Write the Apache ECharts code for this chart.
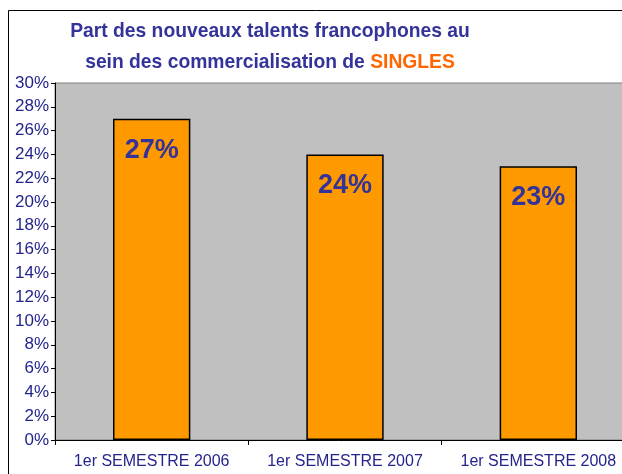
<!DOCTYPE html>
<html>
<head>
<meta charset="utf-8">
<script src="https://cdn.jsdelivr.net/npm/echarts@6/dist/echarts.min.js"></script>
<style>
  html, body { margin: 0; padding: 0; background: #ffffff; }
  #chart { width: 622px; height: 474px; }
</style>
</head>
<body>
<div id="chart"></div>
<script>
// Share of new French-speaking talents in singles sales, by first half-year
const categories = ['1er SEMESTRE 2006', '1er SEMESTRE 2007', '1er SEMESTRE 2008'];
const shares = [27, 24, 23];
const yTicks = { min: 0, max: 30, step: 2 };

const chart = echarts.init(document.getElementById('chart'), null, { renderer: 'canvas' });

const navy = '#24248c';
const titleBlue = '#333399';
const font = 'Liberation Sans, Arial, sans-serif';

chart.setOption({
  animation: false,
  backgroundColor: '#ffffff',
  title: {
    text: '{a|Part des nouveaux talents francophones au}\n{a|sein des commercialisation de }{b|SINGLES}',
    left: 265,
    top: 11,
    textAlign: 'center',
    textStyle: {
      rich: {
        a: { fontFamily: font, fontWeight: 'bold', fontSize: 19.3, color: titleBlue, lineHeight: 31 },
        b: { fontFamily: font, fontWeight: 'bold', fontSize: 19.3, color: '#ff6600', lineHeight: 31 }
      }
    }
  },
  graphic: [
    {
      type: 'rect',
      shape: { x: 8.5, y: 10.5, width: 640, height: 500 },
      style: { fill: 'none', stroke: '#000000', lineWidth: 1 },
      z: 0
    }
  ],
  grid: {
    left: 55,
    top: 83,
    width: 580,
    height: 357,
    outerBoundsMode: 'none',
    containLabel: false,
    show: true,
    backgroundColor: '#c0c0c0',
    borderColor: '#808080',
    borderWidth: 1
  },
  xAxis: {
    type: 'category',
    data: categories,
    axisLine: { lineStyle: { color: '#000000', width: 1 } },
    axisTick: { show: true, length: 5, alignWithLabel: false, lineStyle: { color: '#000000' } },
    axisLabel: {
      interval: 0,
      hideOverlap: false,
      fontFamily: font,
      fontSize: 16,
      color: navy,
      margin: 14
    },
    splitLine: { show: false }
  },
  yAxis: {
    type: 'value',
    min: yTicks.min,
    max: yTicks.max,
    interval: yTicks.step,
    axisLine: { show: true, lineStyle: { color: '#000000', width: 1 } },
    axisTick: { show: true, length: 4, lineStyle: { color: '#000000' } },
    axisLabel: {
      formatter: '{value}%',
      fontFamily: font,
      fontSize: 17,
      color: navy,
      margin: 6
    },
    splitLine: { show: false }
  },
  series: [
    {
      type: 'bar',
      data: shares,
      barWidth: '40%',
      itemStyle: { color: '#ff9900', borderColor: '#000000', borderWidth: 1.5 },
      label: {
        show: true,
        position: 'insideTop',
        distance: 18,
        formatter: '{c}%',
        fontFamily: font,
        fontWeight: 'bold',
        fontSize: 27,
        color: titleBlue
      }
    }
  ]
});
</script>
</body>
</html>
